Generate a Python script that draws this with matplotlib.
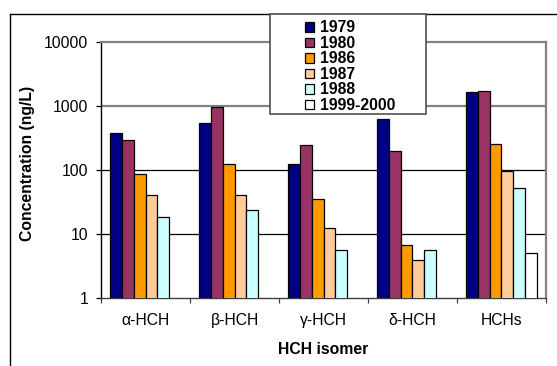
import numpy as np
import matplotlib
matplotlib.use("Agg")
import matplotlib.pyplot as plt
from matplotlib.lines import Line2D
from matplotlib.patches import Rectangle

plt.rcParams['font.family'] = ['Liberation Sans', 'DejaVu Sans']

categories = ["α-HCH", "β-HCH", "γ-HCH", "δ-HCH", "HCHs"]
series_names = ["1979", "1980", "1986", "1987", "1988", "1999-2000"]
v1979 = [380, 540, 122, 620, 1640]
v1980 = [295, 950, 245, 195, 1700]
v1986 = [86, 126, 35, 6.8, 255]
v1987 = [40, 40, 12.2, 3.9, 95]
v1988 = [18.5, 23.5, 5.7, 5.7, 53]
v1999 = [np.nan, np.nan, np.nan, np.nan, 5.0]
series_values = [v1979, v1980, v1986, v1987, v1988, v1999]
colors = ["#000080", "#993366", "#FF9900", "#FFCC99", "#CCFFFF", "#FFFFFF"]
yticks = [1, 10, 100, 1000, 10000]
ytick_labels = ["1", "10", "100", "1000", "10000"]

W, H = 557, 366
fig = plt.figure(figsize=(W / 100, H / 100), dpi=100)
ax = fig.add_axes([101 / W, 1 - 298 / H, 445 / W, 256 / H])

fs = 11.3
n = len(series_names)
group_w = 0.8
bw = group_w / n
x = np.arange(len(categories))
for i, (name, vals, c) in enumerate(zip(series_names, series_values, colors)):
    offs = -group_w / 2 + bw * (i + 0.5)
    ax.bar(x + offs, vals, width=bw, color=c, edgecolor="black", linewidth=0.9,
           bottom=0, label=name, zorder=3)

ax.set_yscale("log")
ax.set_ylim(1, 10000)
ax.set_xlim(-0.5, len(categories) - 0.5)
ax.set_yticks(yticks)
ax.set_yticklabels(ytick_labels, fontsize=fs)
ax.yaxis.set_minor_locator(matplotlib.ticker.NullLocator())
ax.tick_params(axis="y", direction="out", length=3.6, width=0.9, pad=5.5, color="black")

ax.set_xticks(np.arange(len(categories) + 1) - 0.5)
ax.set_xticklabels([])
ax.set_xticks(x, minor=True)
ax.set_xticklabels(categories, minor=True, fontsize=fs)
ax.tick_params(axis="x", which="major", direction="out", length=3.6, width=0.9, color="#404040")
ax.tick_params(axis="x", which="minor", length=0, pad=11)

# gridlines
for yv in yticks[1:-1]:
    ax.axhline(yv, color=("#808080" if yv >= 1000 else "black"), linewidth=(1.6 if yv >= 1000 else 0.9), zorder=1)

for s in ["top", "right"]:
    ax.spines[s].set_color("#808080")
    ax.spines[s].set_linewidth(1.6)
ax.spines["left"].set_color("black")
ax.spines["bottom"].set_color("#404040")
ax.spines["left"].set_linewidth(1.0)
ax.spines["bottom"].set_linewidth(1.0)

ax.set_ylabel("Concentration (ng/L)", fontsize=fs, fontweight="bold", ha="center", va="center")
ax.yaxis.set_label_coords((28 - 101) / 445, (298 - 163) / 256)
ax.set_xlabel("HCH isomer", fontsize=fs, fontweight="bold", ha="center", va="center")
ax.xaxis.set_label_coords(0.5, (298 - 350) / 256)

# outer border (clipped at right/bottom)
fig.add_artist(Line2D([10 / W, 1.0], [1 - 14 / H, 1 - 14 / H], transform=fig.transFigure,
                      color="black", linewidth=1.0))
fig.add_artist(Line2D([10 / W, 10 / W], [1 - 14 / H, 0.0], transform=fig.transFigure,
                      color="black", linewidth=1.0))

# legend box
box = Rectangle((270 / W, 1 - 114 / H), 156 / W, 100 / H, transform=fig.transFigure,
                facecolor="white", edgecolor="#505050", linewidth=1.2, zorder=9)
fig.add_artist(box)

leg = fig.legend(loc="upper left", bbox_to_anchor=(305 / W, 1 - 20.5 / H),
                 ncol=1, prop={"size": fs, "weight": "bold"}, frameon=False,
                 borderaxespad=0, borderpad=0, labelspacing=0.03,
                 handlelength=0.55, handleheight=0.55, handletextpad=0.4)
leg.set_zorder(10)

fig.savefig("out.png", dpi=100)
